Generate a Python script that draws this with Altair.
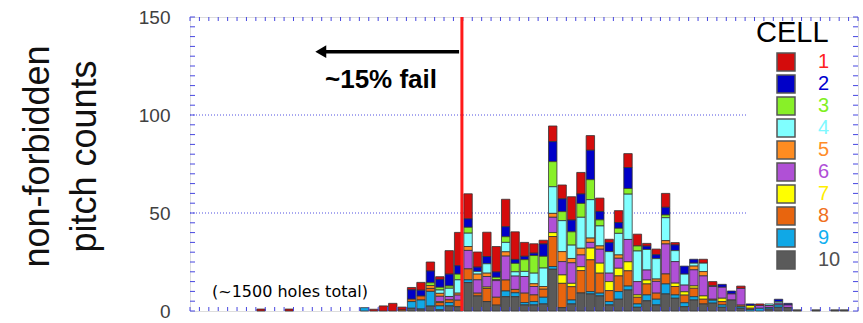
import altair as alt
import pandas as pd

# ---- data ---------------------------------------------------------------
N_BINS = 71          # histogram bins across the full x range
FIRST_BIN = 7        # per-cell lists below start at this bin index

cells = ["1", "2", "3", "4", "5", "6", "7", "8", "9", "10"]
cell_colors = ["#d40c0c", "#0000c8", "#88f028", "#80ffff", "#ff8c20",
               "#b050d6", "#ffff00", "#e8650e", "#10a8e6", "#5a5a5a"]
label_colors = ["#ff2020", "#0000d0", "#80f020", "#80f8ff", "#ff8c28",
                "#b050d8", "#ffee00", "#f07020", "#10b0f0", "#505050"]

# counts per bin, bins 7..69 (rows of ~10 bins each)
cell_1 = [1, 0, 0, 1, 0, 0, 0, 0, 0, 0, 0,
          0, 0.9, 2.6, 3.9, 1.5, 1.2, 4, 4.6, 1.4, 12, 17, 12.8,
          7.7, 12.4, 13, 14, 14.1, 7.1, 4.8, 1.9, 8, 7.1,
          11.9, 11, 7.5, 6.8, 1.7, 6.1, 7.1, 6, 1.4, 2.9,
          7.1, 1.2, 0, 0, 2, 2, 0, 0, 1.2, 0,
          0.8, 0, 0, 0, 0, 0, 0, 0, 0, 0]
cell_2 = [0, 0, 0, 0, 0, 0, 0, 0, 0, 0, 0,
          0, 0, 0, 0, 0, 4.8, 3, 6, 4, 6, 4.3, 4.3,
          2.2, 3.7, 2.7, 5.1, 2, 1.7, 1.2, 6.3, 10.2, 6.5,
          6, 4.8, 15, 4.3, 4.6, 2.9, 10.7, 0, 1.7, 2,
          3.9, 2.9, 4.1, 2, 0, 0, 1.5, 1.5, 0, 0.8,
          0, 0, 1.2, 0.8, 0, 0, 0, 0, 0, 0]
cell_3 = [0, 0, 0, 0, 0, 0, 0, 0, 0, 0, 0,
          0, 0, 0, 0, 0, 0, 0, 1.4, 1.4, 1.2, 2.9, 3,
          0, 0, 1.2, 2.9, 4.3, 6, 9, 6, 12.8, 4.6,
          6.8, 7.1, 10.2, 3.1, 0, 2.6, 2.9, 2.6, 0, 0,
          1.4, 0, 0, 0, 0, 0, 0, 0, 0, 0,
          0, 0, 0, 0, 0, 0, 0, 0, 0, 0]
cell_4 = [0, 0, 0, 0, 0, 0, 0, 0, 0, 0, 0,
          0, 0, 0, 0, 0, 0, 0, 0, 1.7, 4.2, 6.8, 6.8,
          1.4, 4.8, 0, 4.8, 2.2, 2.6, 5.4, 9.4, 13.6, 15.8,
          6.8, 15.8, 19.6, 10.2, 11, 11, 23.1, 15.6, 10.5, 10.4,
          11.7, 5.6, 5.6, 1.5, 4.3, 0, 0, 0, 0, 0,
          0, 0.8, 0.8, 0, 0, 0, 0, 0, 0, 0]
cell_5 = [0, 0, 0, 0, 0, 0, 0, 0, 0, 0, 0,
          0, 0, 0, 0, 0, 0, 0, 1.5, 1.5, 0, 1, 2,
          2.9, 1.7, 0.5, 2.2, 0, 0, 1.4, 1.4, 2, 5.1,
          2.2, 3.4, 2.2, 1.7, 0, 1.7, 0, 0, 0, 1.2,
          1.7, 0, 0, 1.9, 2.2, 0.5, 0, 0, 0, 0,
          0, 0, 0, 0, 0, 0, 0, 0, 0, 0]
cell_6 = [0, 0, 0, 0, 0, 0, 0, 0, 0, 0, 0,
          0, 0, 0, 0, 0, 0, 0, 0, 2.7, 1.7, 2.6, 9.4,
          6.8, 5.4, 8.5, 12.2, 6.8, 8.5, 4.3, 0, 7.8, 6.8,
          10.5, 6, 2.9, 7.1, 4.3, 5.1, 11.4, 6.8, 5.1, 6,
          15.3, 11, 3.4, 8.2, 10.2, 6.5, 5.6, 3.1, 8.5, 0,
          1.4, 1, 0.9, 1.4, 0, 0, 0, 0, 0, 0]
cell_7 = [0, 0, 0, 0, 0, 0, 0, 0, 0, 0, 0,
          0, 0, 0, 0, 0, 0, 0, 0, 0.5, 0, 0, 0,
          0, 0.7, 0, 0, 0, 0, 0, 0, 2, 4.3,
          1.7, 2, 6, 5.1, 4.6, 3.9, 4.6, 1.2, 2, 0,
          0, 1.7, 1.7, 1.2, 1.7, 0, 1.7, 0, 0, 1.4,
          0, 0, 0, 0, 0, 0, 0, 0, 0, 0]
cell_8 = [0, 0, 0, 0, 0, 0, 0, 0, 0, 0, 0,
          0, 0, 0, 0, 0.5, 1.2, 2, 1.5, 1.7, 1.4, 3.3, 5.6,
          1.4, 6.7, 4, 5.6, 1.7, 4.8, 3.4, 4.1, 15.3, 12.4,
          6.8, 11.4, 16.2, 10.2, 5.6, 8, 7.8, 3.4, 5.6, 3.1,
          5.1, 4.3, 3.9, 4.3, 2.4, 0.5, 1.7, 0, 0.8, 0.7,
          0, 0, 0, 0, 0, 0, 0, 0, 0, 0]
cell_9 = [0, 0, 0, 0, 0, 0, 0, 0, 0, 0, 0,
          1.7, 0, 0, 0, 0, 3.4, 4.6, 7.5, 2, 1.7, 0, 1.4,
          0, 0, 0, 2.9, 2, 1.2, 1.7, 3.4, 1.4, 0,
          2, 0, 1.2, 1.4, 1.7, 3.9, 2, 1.7, 3, 2.9,
          5.1, 1.7, 2, 1.7, 0, 1.5, 1.2, 0, 0.8, 0.7,
          1.4, 0.8, 1.2, 0, 0, 0, 0, 0, 0, 0]
cell_10 = [0, 0, 0, 0, 0, 0, 0, 0, 0, 0, 0,
           0, 0, 0, 0, 0, 1.4, 1, 2.5, 0.6, 2.6, 2.2, 14.5,
           7.7, 4.8, 3, 7.3, 7.3, 3.1, 3.1, 3.6, 21.3, 1.7,
           3.6, 9.2, 8.7, 7.7, 3.1, 6, 10.7, 1.9, 5.2, 3.1,
           8.7, 6.5, 2.2, 5.6, 3.6, 4, 1.9, 5.6, 1.4, 0,
           0, 1, 1.9, 1.7, 0.6, 0, 0.6, 0, 0.6, 0.6]

y_tick_labels = [0, 50, 100, 150]
grid_levels = [50, 100]
fail_cut = 28.9                     # bin edge of the pass/fail threshold
note_total = "(~1500 holes total)"
note_fail = "~15% fail"

# ---- long table for the stacked histogram -------------------------------
series = [cell_1, cell_2, cell_3, cell_4, cell_5,
          cell_6, cell_7, cell_8, cell_9, cell_10]
rows = []
for ci, (name, vals) in enumerate(zip(cells, series)):
    for k, v in enumerate(vals):
        if v > 0:
            b = FIRST_BIN + k
            rows.append({"x0": b, "x1": b + 1, "cell": name,
                         "cell_idx": ci + 1, "count": v})
bars_df = pd.DataFrame(rows)

FONT = "Liberation Sans"
FRAME = "#4646e0"

x_scale = alt.Scale(domain=[0, N_BINS], nice=False, zero=False)
y_scale = alt.Scale(domain=[0, 150], nice=False)

label_expr = "[" + ",".join(f"'{c}'" for c in label_colors) + "][toNumber(datum.label) - 1]"

bars = alt.Chart(bars_df).mark_bar(
    stroke="#333333", strokeWidth=0.8
).encode(
    x=alt.X("x0:Q", bin="binned", scale=x_scale, axis=None),
    x2="x1:Q",
    y=alt.Y("count:Q", stack="zero", scale=y_scale,
            axis=alt.Axis(values=y_tick_labels, grid=False, domain=False,
                          tickSize=0, labelPadding=20, labelFontSize=19,
                          labelFont=FONT, labelColor="#404040",
                          title=["non-forbidden", "pitch counts"],
                          titleFont=FONT, titleFontSize=36,
                          titleFontWeight="normal", titleColor="#111111",
                          titleAngle=270, titleAlign="center",
                          titleBaseline="middle", titleLineHeight=47,
                          titleX=-153, titleY=139)),
    color=alt.Color("cell:N",
                    scale=alt.Scale(domain=cells, range=cell_colors),
                    legend=alt.Legend(
                        title="CELL", orient="none", legendX=566, legendY=2,
                        titleFont=FONT, titleFontSize=29,
                        titleFontWeight="normal", titleColor="black",
                        titlePadding=4, labelFont=FONT, labelFontSize=20,
                        labelOffset=22,
                        labelColor=alt.ExprRef(expr=label_expr),
                        symbolType="square", symbolSize=324,
                        symbolStrokeColor="#555555", symbolStrokeWidth=1.5,
                        symbolOffset=20, rowPadding=-2.6)),
    order=alt.Order("cell_idx:Q", sort="descending"),
)

# dotted reference lines at 50 and 100
grid = alt.Chart(pd.DataFrame({"y": grid_levels})).mark_rule(
    color="#5050e0", strokeWidth=1, strokeDash=[1, 2]
).encode(y=alt.Y("y:Q", scale=y_scale), x=alt.value(0), x2=alt.value(557))

# inward ticks on all four sides of the frame
y_ticks = pd.DataFrame({"y": list(range(0, 151, 5))})
x_ticks = pd.DataFrame({"x": list(range(0, N_BINS + 1))})
tick_style = dict(color=FRAME, strokeWidth=1)
left_ticks = alt.Chart(y_ticks).mark_rule(**tick_style).encode(
    y=alt.Y("y:Q", scale=y_scale), x=alt.value(0), x2=alt.value(5))
right_ticks = alt.Chart(y_ticks).mark_rule(**tick_style).encode(
    y=alt.Y("y:Q", scale=y_scale), x=alt.value(663), x2=alt.value(668))
top_ticks = alt.Chart(x_ticks).mark_rule(**tick_style).encode(
    x=alt.X("x:Q", scale=x_scale), y=alt.value(0), y2=alt.value(4))
bottom_ticks = alt.Chart(x_ticks).mark_rule(**tick_style).encode(
    x=alt.X("x:Q", scale=x_scale), y=alt.value(290), y2=alt.value(294))

# pass/fail threshold
cut = alt.Chart(pd.DataFrame({"x": [fail_cut]})).mark_rule(
    color="#ff1a1a", strokeWidth=3
).encode(x=alt.X("x:Q", scale=x_scale), y=alt.value(0), y2=alt.value(294))

# arrow pointing into the failing region
arrow_df = pd.DataFrame({"x": [13.9], "x2": [28.6], "y": [132.3]})
arrow_shaft = alt.Chart(arrow_df).mark_rule(color="black", strokeWidth=3.5).encode(
    x=alt.X("x:Q", scale=x_scale), x2="x2:Q", y=alt.Y("y:Q", scale=y_scale))
arrow_head = alt.Chart(arrow_df).mark_point(
    shape="triangle-left", filled=True, color="black", size=160, opacity=1
).encode(x=alt.X("x:Q", scale=x_scale), y=alt.Y("y:Q", scale=y_scale))

fail_text = alt.Chart(pd.DataFrame({"x": [20.3], "y": [113.8], "t": [note_fail]})).mark_text(
    font=FONT, fontSize=26, fontWeight="bold", color="black",
    align="center", baseline="alphabetic"
).encode(x=alt.X("x:Q", scale=x_scale), y=alt.Y("y:Q", scale=y_scale), text="t:N")

total_text = alt.Chart(pd.DataFrame({"x": [2.34], "y": [7.1], "t": [note_total]})).mark_text(
    font="DejaVu Sans", fontSize=16, color="black",
    align="left", baseline="alphabetic"
).encode(x=alt.X("x:Q", scale=x_scale), y=alt.Y("y:Q", scale=y_scale), text="t:N")

chart = alt.layer(
    grid, bars, left_ticks, right_ticks, top_ticks, bottom_ticks,
    cut, arrow_shaft, arrow_head, fail_text, total_text
).properties(
    width=668, height=294,
    autosize=alt.AutoSizeParams(type="none"),
    padding={"left": 190, "top": 17, "right": 5, "bottom": 12},
).configure_view(
    stroke=FRAME, strokeWidth=1.5
).configure(background="white")

chart.save("out.html", embed_options={"renderer": "svg", "actions": False})
